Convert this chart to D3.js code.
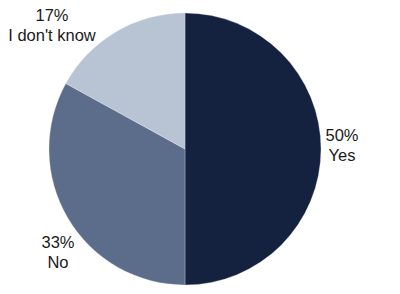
<!DOCTYPE html>
<html>
<head>
<meta charset="utf-8">
<script src="https://cdn.jsdelivr.net/npm/d3@7"></script>
<style>
html,body{margin:0;padding:0;background:#fff;}
svg{display:block;}
</style>
</head>
<body>
<svg id="chart" width="400" height="294"></svg>
<script>
const categories = ["Yes", "No", "I don't know"];
const values = [50, 33, 17];
const colors = ["#14213f", "#5b6d8b", "#b8c4d4"];

// label placement (layout only)
const labelPos = {
  "Yes": [342, 141],
  "No": [58, 248],
  "I don't know": [52, 21]
};

const svg = d3.select("#chart");
const cx = 185, cy = 149, r = 136;
const g = svg.append("g").attr("transform", `translate(${cx},${cy})`);

const pie = d3.pie().sort(null).value(d => d.v);
const data = categories.map((c, i) => ({c, v: values[i], col: colors[i]}));
const arcs = pie(data);
const arc = d3.arc().innerRadius(0).outerRadius(r);

g.selectAll("path").data(arcs).join("path")
  .attr("d", arc)
  .attr("fill", d => d.data.col)
  .attr("stroke", "#e8ecf0")
  .attr("stroke-width", 0.3);

const lab = svg.selectAll("text.lab").data(arcs).join("text")
  .attr("class", "lab")
  .attr("text-anchor", "middle")
  .attr("font-family", "'Liberation Sans', Arial, sans-serif")
  .attr("font-size", 16.5)
  .attr("fill", "#1a1a1a");
lab.append("tspan")
  .attr("x", d => labelPos[d.data.c][0])
  .attr("y", d => labelPos[d.data.c][1])
  .text(d => d3.format(".0f")(d.data.v) + "%");
lab.append("tspan")
  .attr("x", d => labelPos[d.data.c][0])
  .attr("y", d => labelPos[d.data.c][1] + 20)
  .text(d => d.data.c);
</script>
</body>
</html>
